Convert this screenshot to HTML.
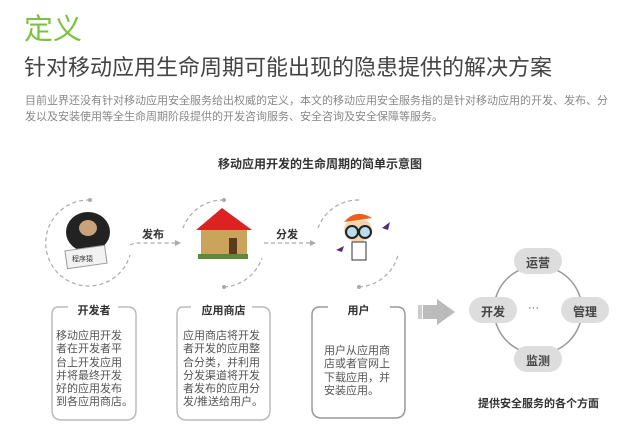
<!DOCTYPE html>
<html><head><meta charset="utf-8"><style>
body{margin:0;width:640px;height:446px;background:#fff;font-family:"Liberation Sans","Noto Sans CJK SC",sans-serif;position:relative;overflow:hidden}
.a{position:absolute;white-space:nowrap}
</style></head><body>
<div class="a" style="left:24px;top:12px;font-size:29px;color:#7cc242;line-height:36px">定义</div>
<div class="a" style="left:24px;top:53px;font-size:22px;color:#444;line-height:30px">针对移动应用生命周期可能出现的隐患提供的解决方案</div>
<div class="a" style="left:25px;top:93px;font-size:11px;color:#888;line-height:16px">目前业界还没有针对移动应用安全服务给出权威的定义，本文的移动应用安全服务指的是针对移动应用的开发、发布、分<br>发以及安装使用等全生命周期阶段提供的开发咨询服务、安全咨询及安全保障等服务。</div>
<div class="a" style="left:0;width:640px;text-align:center;top:155px;font-size:12px;font-weight:bold;color:#333">移动应用开发的生命周期的简单示意图</div>
<svg class="a" style="left:0;top:0" width="640" height="446">
<g fill="none" stroke="#aaa" stroke-width="1.2" stroke-dasharray="4,3">
<path d="M90 200 A43 43 0 1 0 130 255"/>
<path d="M224 200 A43 43 0 0 0 183 228 M224 287 A43 43 0 0 0 262 258"/>
<path d="M359 200 A43 43 0 0 0 318 228 M359 287 A43 43 0 0 0 398 255"/>
<path d="M130 245 L135 243 L175 243"/><path d="M264 243 L310 243"/>
</g>
<g fill="#aaa"><circle cx="90" cy="200" r="2"/><circle cx="224" cy="200" r="2"/><circle cx="224" cy="287" r="2"/><circle cx="359" cy="287" r="2"/>
<path d="M175 240 L181 243 L175 246Z"/><path d="M310 240 L316 243 L310 246Z"/></g>
<ellipse cx="88" cy="232" rx="22" ry="20" fill="#222"/><ellipse cx="88" cy="228" rx="9" ry="8" fill="#c9a27a"/>
<rect x="66" y="248" width="40" height="18" fill="#f2f2f2" stroke="#999" transform="rotate(-8 86 257)"/>
<text x="72" y="261" font-size="7" fill="#333">程序猿</text>
<rect x="201" y="228" width="46" height="30" fill="#c9a45a"/><path d="M196 230 L222 208 L252 230Z" fill="#d22"/>
<rect x="229" y="238" width="8" height="20" fill="#5a3a20"/><rect x="198" y="254" width="50" height="5" fill="#5a8a3a"/>
<ellipse cx="358" cy="230" rx="14" ry="12" fill="#f3d3b0"/><path d="M344 222 Q356 208 372 218Z" fill="#e8601c"/>
<circle cx="352" cy="232" r="6" fill="#bde" stroke="#222" stroke-width="2"/><circle cx="365" cy="232" r="6" fill="#bde" stroke="#222" stroke-width="2"/>
<rect x="352" y="242" width="14" height="18" fill="#fff" stroke="#333"/>
<path d="M336 250 l8 -4 l-2 6Z M382 228 l8 -6 l-2 8Z" fill="#5a2a7a"/>
<g fill="none" stroke="#bbb" stroke-width="1.5">
<path d="M68 307 H58 Q52 307 52 315 V410 Q52 420 62 420 H126 Q136 420 136 410 V315 Q136 307 128 307 H118"/>
<path d="M191 307 H183 Q177 307 177 315 V410 Q177 420 187 420 H260 Q270 420 270 410 V315 Q270 307 262 307 H252"/>
</g>
<path d="M328 307 H320 Q312 307 312 315 V408 Q312 418 322 418 H395 Q405 418 405 408 V315 Q405 307 397 307 H390" fill="none" stroke="#999" stroke-width="1.5"/>
<rect x="418" y="305" width="4" height="14" fill="#ccc"/><rect x="423" y="305" width="15" height="14" fill="#bbb"/><path d="M437 299 L455 312 L437 325Z" fill="#bbb"/>
<circle cx="538" cy="310" r="44" fill="none" stroke="#999" stroke-width="1.5"/>
<g fill="#ddd"><rect x="514" y="248" width="48" height="26" rx="13"/><rect x="469" y="297" width="48" height="26" rx="13"/><rect x="561" y="297" width="48" height="26" rx="13"/><rect x="514" y="346" width="48" height="26" rx="13"/></g>
</svg>
<div class="a" style="left:52px;width:84px;text-align:center;top:302px;font-size:11px;font-weight:bold;color:#333">开发者</div>
<div class="a" style="left:177px;width:93px;text-align:center;top:302px;font-size:11px;font-weight:bold;color:#333">应用商店</div>
<div class="a" style="left:312px;width:93px;text-align:center;top:302px;font-size:11px;font-weight:bold;color:#333">用户</div>
<div class="a" style="left:56px;top:330px;font-size:11px;line-height:13.3px;color:#555">移动应用开发<br>者在开发者平<br>台上开发应用<br>并将最终开发<br>好的应用发布<br>到各应用商店。</div>
<div class="a" style="left:183px;top:330px;font-size:11px;line-height:13.3px;color:#555">应用商店将开发<br>者开发的应用整<br>合分类，并利用<br>分发渠道将开发<br>者发布的应用分<br>发/推送给用户。</div>
<div class="a" style="left:324px;top:345px;font-size:11px;line-height:13.3px;color:#555">用户从应用商<br>店或者官网上<br>下载应用，并<br>安装应用。</div>
<div class="a" style="left:142px;top:226px;font-size:11px;font-weight:bold;color:#333">发布</div>
<div class="a" style="left:276px;top:226px;font-size:11px;font-weight:bold;color:#333">分发</div>
<div class="a" style="left:514px;width:48px;text-align:center;top:254px;font-size:12px;font-weight:bold;color:#444">运营</div>
<div class="a" style="left:469px;width:48px;text-align:center;top:303px;font-size:12px;font-weight:bold;color:#444">开发</div>
<div class="a" style="left:561px;width:48px;text-align:center;top:303px;font-size:12px;font-weight:bold;color:#444">管理</div>
<div class="a" style="left:514px;width:48px;text-align:center;top:352px;font-size:12px;font-weight:bold;color:#444">监测</div>
<div class="a" style="left:528px;top:302px;font-size:11px;color:#555">···</div>
<div class="a" style="left:478px;top:395px;font-size:11px;font-weight:bold;color:#333">提供安全服务的各个方面</div>
</body></html>
